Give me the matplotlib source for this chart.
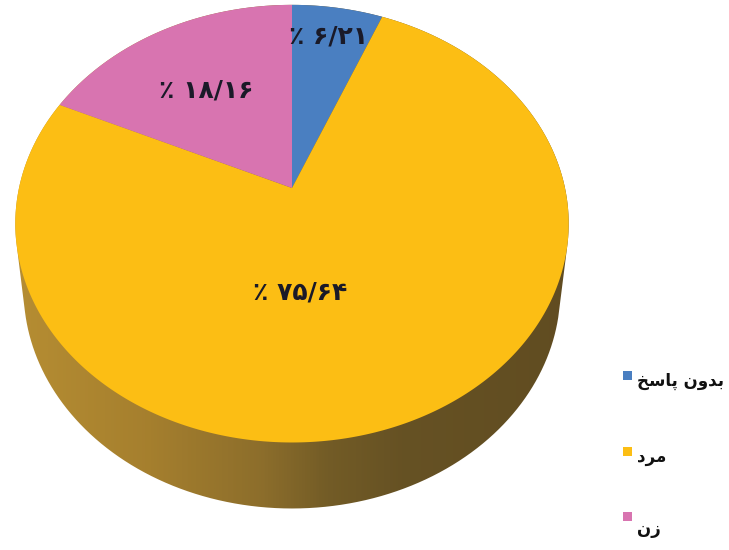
import numpy as np
import matplotlib
matplotlib.use("Agg")
import matplotlib.pyplot as plt
import matplotlib.transforms as mtransforms
from matplotlib.path import Path
from matplotlib.patches import PathPatch, Rectangle
from matplotlib.colors import LinearSegmentedColormap

# ---------------- data ----------------
categories = ["بدون پاسخ", "مرد", "زن"]
values = [6.21, 75.64, 18.16]
colors = ["#4a7fc1", "#fcbe14", "#d874b0"]

# ---------------- Persian shaping (presentation forms, visual order) ----------------
FORMS = {
    'ب': ('\uFE8F', '\uFE90', '\uFE91', '\uFE92'),
    'پ': ('\uFB56', '\uFB57', '\uFB58', '\uFB59'),
    'ن': ('\uFEE5', '\uFEE6', '\uFEE7', '\uFEE8'),
    'س': ('\uFEB1', '\uFEB2', '\uFEB3', '\uFEB4'),
    'خ': ('\uFEA5', '\uFEA6', '\uFEA7', '\uFEA8'),
    'م': ('\uFEE1', '\uFEE2', '\uFEE3', '\uFEE4'),
    'د': ('\uFEA9', '\uFEAA', None, None),
    'و': ('\uFEED', '\uFEEE', None, None),
    'ا': ('\uFE8D', '\uFE8E', None, None),
    'ر': ('\uFEAD', '\uFEAE', None, None),
    'ز': ('\uFEAF', '\uFEB0', None, None),
}


def shape(s):
    out = []
    for i, ch in enumerate(s):
        if ch not in FORMS:
            out.append(ch)
            continue
        prev = s[i - 1] if i > 0 else ''
        nxt = s[i + 1] if i + 1 < len(s) else ''
        jp = prev in FORMS and FORMS[prev][2] is not None
        jn = FORMS[ch][2] is not None and nxt in FORMS
        f = FORMS[ch]
        if jp and jn:
            out.append(f[3])
        elif jp:
            out.append(f[1])
        elif jn:
            out.append(f[2])
        else:
            out.append(f[0])
    return ''.join(reversed(out))


DIG = str.maketrans('0123456789.', '۰۱۲۳۴۵۶۷۸۹/')


def pct_label(v):
    return '٪ ' + f"{v:.2f}".translate(DIG)


# ---------------- perspective transform for the pie disk ----------------
class Persp(mtransforms.Transform):
    input_dims = 2
    output_dims = 2
    is_separable = False
    has_inverse = False

    def __init__(self, cx, cy, rx, ry, k, sx=1.0, dy=0.0):
        super().__init__()
        self.cx, self.cy, self.rx, self.ry, self.k = cx, cy, rx, ry, k
        self.sx, self.dy = sx, dy

    def transform_non_affine(self, xy):
        xy = np.asarray(xy, float).reshape(-1, 2)
        u, v = xy[:, 0], xy[:, 1]
        d = 1.0 + self.k * v
        X = self.cx + self.rx * self.sx * u / d
        Y = self.cy + self.dy - self.ry * v / d
        return np.column_stack([X, Y])

    def transform_path_non_affine(self, path):
        pts = []
        for bez, code in path.iter_bezier():
            deg = bez.degree
            if deg < 1:
                pts.append(bez.control_points[:1])
                continue
            n = 2 if deg == 1 else 40
            t = np.linspace(0, 1, n)
            pts.append(bez(t))
        verts = np.vstack(pts)
        return Path(self.transform_non_affine(verts))


W, H = 729, 550
fig = plt.figure(figsize=(W / 100, H / 100), dpi=100)
ax = fig.add_axes([0, 0, 1, 1])

CX, CY, RX, RY, K = 292, 188, 273, 213, 0.163
top = Persp(CX, CY, RX, RY, K)
bottom = Persp(CX, CY, RX, RY, K, sx=0.97, dy=66)

# side of the cylinder: convex hull of top and bottom outlines, gradient fill
th = np.linspace(0, 2 * np.pi, 721)
circ = np.column_stack([np.cos(th), np.sin(th)])
pts = np.vstack([top.transform(circ), bottom.transform(circ)])


def hull(p):
    p = sorted(map(tuple, p))
    def cross(o, a, b):
        return (a[0] - o[0]) * (b[1] - o[1]) - (a[1] - o[1]) * (b[0] - o[0])
    lower, upper = [], []
    for q in p:
        while len(lower) >= 2 and cross(lower[-2], lower[-1], q) <= 0:
            lower.pop()
        lower.append(q)
    for q in reversed(p):
        while len(upper) >= 2 and cross(upper[-2], upper[-1], q) <= 0:
            upper.pop()
        upper.append(q)
    return np.array(lower[:-1] + upper[:-1])


side_poly = hull(pts)
side_patch = PathPatch(Path(side_poly, closed=False), facecolor='none', edgecolor='none')
ax.add_patch(side_patch)
side_cmap = LinearSegmentedColormap.from_list(
    'side',
    [(0.0, (0.72, 0.56, 0.20)), (0.2, (0.65, 0.50, 0.18)), (0.36, (0.55, 0.43, 0.17)),
     (0.45, (0.45, 0.36, 0.15)), (0.55, (0.40, 0.32, 0.14)), (1.0, (0.36, 0.28, 0.12))])
grad = np.tile(np.linspace(0, 1, 512), (4, 1))
im = ax.imshow(grad, cmap=side_cmap, extent=(0, W, H, 0), aspect='auto', zorder=1)
im.set_clip_path(side_patch)

# top of the pie
wedges, _ = ax.pie(values, colors=colors, startangle=90, counterclock=False,
                   radius=1, wedgeprops=dict(linewidth=0))
for w in wedges:
    w.set_transform(top + ax.transData)
    w.set_zorder(2)

# percentage labels
label_pos = [(329, 37), (300, 293), (206, 91)]
for v, (x, y) in zip(values, label_pos):
    ax.text(x, y, pct_label(v), ha='center', va='center', fontsize=18,
            fontweight='bold', color='#1a1a28', family=['DejaVu Sans'], zorder=5)

# legend
leg_sq = [375, 451, 516]
leg_tx = [381, 457, 529]
for cat, c, ys, yt in zip(categories, colors, leg_sq, leg_tx):
    ax.add_patch(Rectangle((623, ys - 4.5), 9, 9, facecolor=c, edgecolor='none', zorder=5))
    ax.text(637, yt, shape(cat), ha='left', va='center', fontsize=12,
            fontweight='bold', color='#111111', family=['DejaVu Sans'], zorder=5)

ax.set_xlim(0, W)
ax.set_ylim(H, 0)
ax.set_aspect('auto')
ax.axis('off')
fig.savefig('out.png', dpi=100)
